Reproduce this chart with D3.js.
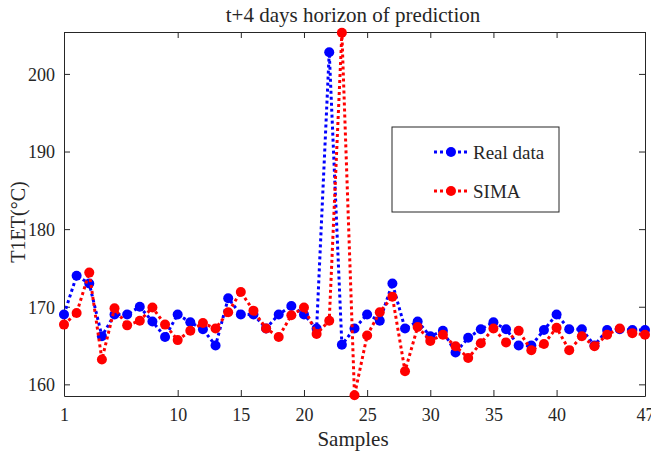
<!DOCTYPE html>
<html>
<head>
<meta charset="utf-8">
<script src="https://cdn.jsdelivr.net/npm/d3@7"></script>
<style>
  body { margin: 0; background: #fff; }
  text { font-family: "Liberation Serif", "Times New Roman", serif; fill: #262626; }
</style>
</head>
<body>
<div id="chart"></div>
<script>
var samples = d3.range(1, 48);
var realData = [169, 174, 173, 166.2, 169, 169, 170, 168.1, 166.1, 169,
	168, 167.1, 165, 171.1, 169, 169, 167.2, 169, 170.1, 169,
	167.2, 202.8, 165.1, 167.2, 169, 168.2, 173, 167.2, 168.1, 166.2,
	166.9, 164.1, 166, 167.1, 168, 167.1, 165, 165, 167, 169,
	167.1, 167.1, 165, 167, 167.1, 167, 167];
var simaData = [167.7, 169.2, 174.4, 163.2, 169.8, 167.6, 168.2, 169.9, 167.7, 165.7,
	166.9, 167.9, 167.2, 169.3, 171.9, 169.5, 167.2, 166.1, 168.9, 169.9,
	166.5, 168.2, 205.3, 158.6, 166.3, 169.3, 171.3, 161.7, 167.4, 165.6,
	166.4, 164.9, 163.4, 165.3, 167.2, 165.4, 166.9, 164.4, 165.2, 167.3,
	164.4, 166.2, 164.9, 166.4, 167.2, 166.6, 166.4];
var xTicks = [1, 10, 15, 20, 25, 30, 35, 40, 47];
var yTicks = [160, 170, 180, 190, 200];
var seriesNames = ["Real data", "SIMA"];
var seriesColors = ["#0000ff", "#ff0000"];

var width = 651, height = 456;
var margin = {top: 32, right: 6, bottom: 60, left: 64};

var svg = d3.select("#chart").append("svg")
	.attr("width", width)
	.attr("height", height);

var x = d3.scaleLinear().domain([1, 47]).range([margin.left, width - margin.right]);
var y = d3.scaleLinear().domain([158.5, 205.4]).range([height - margin.bottom, margin.top]);

var axisColor = "#262626";

// clip so the markers at the edges get cut like matlab does
svg.append("clipPath").attr("id", "plot-clip")
	.append("rect")
	.attr("x", margin.left - 6).attr("y", margin.top - 6)
	.attr("width", width - margin.left - margin.right + 12)
	.attr("height", height - margin.top - margin.bottom + 12);

function draw_axes() {
	var bottom = svg.append("g")
		.attr("transform", "translate(0," + (height - margin.bottom) + ")")
		.call(d3.axisBottom(x).tickValues(xTicks).tickSizeInner(-6).tickSizeOuter(0).tickPadding(12));
	var top = svg.append("g")
		.attr("transform", "translate(0," + margin.top + ")")
		.call(d3.axisTop(x).tickValues(xTicks).tickSizeInner(-6).tickSizeOuter(0).tickFormat(""));
	var left = svg.append("g")
		.attr("transform", "translate(" + margin.left + ",0)")
		.call(d3.axisLeft(y).tickValues(yTicks).tickSizeInner(-6).tickSizeOuter(0).tickPadding(9));
	var right = svg.append("g")
		.attr("transform", "translate(" + (width - margin.right) + ",0)")
		.call(d3.axisRight(y).tickValues(yTicks).tickSizeInner(-6).tickSizeOuter(0).tickFormat(""));

	[bottom, top, left, right].forEach(function(g) {
		g.selectAll("path").attr("stroke", axisColor).attr("stroke-width", 1);
		g.selectAll("line").attr("stroke", axisColor).attr("stroke-width", 1);
		g.selectAll("text").style("font-size", "18px").attr("fill", axisColor);
	});
	left.selectAll("text").attr("dy", "0.35em");
}

function draw_series(values, color) {
	var pts = samples.map(function(s, i) { return [s, values[i]]; });
	var g = svg.append("g").attr("clip-path", "url(#plot-clip)");
	g.append("path")
		.datum(pts)
		.attr("fill", "none")
		.attr("stroke", color)
		.attr("stroke-width", 3)
		.attr("stroke-dasharray", "3,3")
		.attr("d", d3.line().x(function(d) { return x(d[0]); }).y(function(d) { return y(d[1]); }));
	g.selectAll("circle")
		.data(pts)
		.enter().append("circle")
		.attr("cx", function(d) { return x(d[0]); })
		.attr("cy", function(d) { return y(d[1]); })
		.attr("r", 5)
		.attr("fill", color);
}

draw_axes();
draw_series(realData, seriesColors[0]);
draw_series(simaData, seriesColors[1]);

// title and labels
svg.append("text")
	.attr("x", 353)
	.attr("y", 22)
	.attr("text-anchor", "middle")
	.style("font-size", "21px")
	.text("t+4 days horizon of prediction");

svg.append("text")
	.attr("x", 353)
	.attr("y", 446)
	.attr("text-anchor", "middle")
	.style("font-size", "21px")
	.text("Samples");

svg.append("text")
	.attr("transform", "translate(25,222) rotate(-90)")
	.attr("text-anchor", "middle")
	.style("font-size", "20px")
	.text("T1ET(°C)");

// legend
var legend = svg.append("g").attr("transform", "translate(392,127)");
legend.append("rect")
	.attr("width", 167).attr("height", 85)
	.attr("fill", "#fff")
	.attr("stroke", axisColor).attr("stroke-width", 1);

seriesNames.forEach(function(name, i) {
	var ly = 25 + i * 39;
	legend.append("line")
		.attr("x1", 42).attr("x2", 76)
		.attr("y1", ly).attr("y2", ly)
		.attr("stroke", seriesColors[i])
		.attr("stroke-width", 3)
		.attr("stroke-dasharray", "3,3");
	legend.append("circle")
		.attr("cx", 59).attr("cy", ly).attr("r", 5)
		.attr("fill", seriesColors[i]);
	legend.append("text")
		.attr("x", 81).attr("y", ly)
		.attr("dy", "0.35em")
		.style("font-size", "19px")
		.text(name);
});
</script>
</body>
</html>
